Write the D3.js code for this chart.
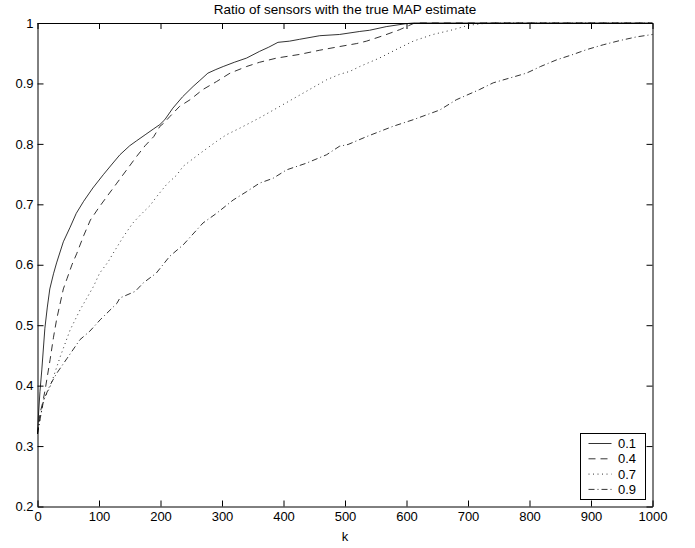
<!DOCTYPE html>
<html>
<head>
<meta charset="utf-8">
<script src="https://cdn.jsdelivr.net/npm/d3@7"></script>
<style>
  body { margin: 0; background: #fff; }
  svg { display: block; }
  text { font-family: "Liberation Sans", Arial, Helvetica, sans-serif; fill: #000; }
</style>
</head>
<body>
<div id="chart"></div>
<script>
// k values and ratios, one pair of arrays per noise level
const k01 = [0, 1.5, 4, 7, 12, 16, 20, 26, 31, 42, 53, 63, 75, 90, 107, 120, 134, 150, 161, 175, 189, 199, 207, 220, 236, 253, 264, 277, 290, 302, 320, 340, 361, 376, 391, 410, 426, 459, 491, 524, 540, 567, 600, 612, 1000];
const v01 = [0.32, 0.35, 0.39, 0.426, 0.495, 0.53, 0.56, 0.585, 0.603, 0.638, 0.662, 0.685, 0.705, 0.727, 0.749, 0.765, 0.782, 0.797, 0.805, 0.815, 0.825, 0.832, 0.84, 0.859, 0.878, 0.895, 0.905, 0.917, 0.923, 0.928, 0.935, 0.942, 0.953, 0.96, 0.968, 0.970, 0.973, 0.979, 0.981, 0.986, 0.988, 0.994, 0.999, 1, 1];

const k04 = [0, 4, 8, 12.4, 20.5, 26, 31, 42, 48, 56, 64, 75, 86, 100, 113, 129, 145, 161, 175, 189, 199, 205, 215, 231, 248, 269, 291, 313, 340, 361, 389, 426, 459, 491, 519, 535, 562, 589, 611, 620, 1000];
const v04 = [0.32, 0.354, 0.37, 0.393, 0.443, 0.48, 0.509, 0.56, 0.577, 0.60, 0.619, 0.648, 0.674, 0.695, 0.713, 0.735, 0.757, 0.779, 0.797, 0.812, 0.829, 0.834, 0.845, 0.862, 0.873, 0.89, 0.903, 0.917, 0.928, 0.935, 0.942, 0.948, 0.955, 0.961, 0.966, 0.970, 0.979, 0.989, 0.999, 1, 1];

const k07 = [0, 5, 10, 20.5, 37, 53, 69, 91, 101, 115, 123, 140, 155, 167, 183, 194, 210, 226, 237, 264, 291, 307, 329, 361, 394, 432, 470, 491, 508, 524, 556, 583, 611, 643, 676, 700, 724, 730, 1000];
const v07 = [0.32, 0.35, 0.376, 0.398, 0.448, 0.492, 0.525, 0.564, 0.586, 0.605, 0.619, 0.647, 0.669, 0.682, 0.698, 0.713, 0.733, 0.748, 0.763, 0.784, 0.804, 0.815, 0.826, 0.843, 0.862, 0.884, 0.906, 0.915, 0.92, 0.928, 0.942, 0.956, 0.97, 0.981, 0.989, 0.996, 0.999, 1, 1];

const k09 = [0, 3, 10, 20.5, 31, 48, 69, 85, 102, 129, 134, 159, 172, 193, 215, 237, 269, 291, 318, 340, 361, 383, 405, 437, 470, 491, 505, 535, 578, 611, 654, 681, 719, 741, 768, 795, 818, 844, 871, 893, 920, 947, 974, 1000];
const v09 = [0.32, 0.338, 0.376, 0.401, 0.42, 0.445, 0.476, 0.49, 0.509, 0.536, 0.545, 0.556, 0.57, 0.586, 0.614, 0.633, 0.669, 0.685, 0.707, 0.721, 0.735, 0.743, 0.757, 0.768, 0.782, 0.796, 0.799, 0.812, 0.829, 0.84, 0.856, 0.873, 0.89, 0.901, 0.909, 0.917, 0.928, 0.939, 0.948, 0.956, 0.964, 0.971, 0.977, 0.981];

const seriesNames = ["0.1", "0.4", "0.7", "0.9"];
const xTicks = [0, 100, 200, 300, 400, 500, 600, 700, 800, 900, 1000];
const yTicks = [0.2, 0.3, 0.4, 0.5, 0.6, 0.7, 0.8, 0.9, 1];

const series = [
  { name: seriesNames[0], k: k01, v: v01, dash: null },
  { name: seriesNames[1], k: k04, v: v04, dash: "7,5" },
  { name: seriesNames[2], k: k07, v: v07, dash: "1,3.5" },
  { name: seriesNames[3], k: k09, v: v09, dash: "6,3,1,3" },
];

const width = 695, height = 548;
const margin = { top: 23, right: 42.5, bottom: 41.5, left: 37.5 };
const innerW = width - margin.left - margin.right;
const innerH = height - margin.top - margin.bottom;
const tickLen = 6;
const fontSize = "13px";

const svg = d3.select("#chart").append("svg")
  .attr("width", width)
  .attr("height", height);

const xScale = d3.scaleLinear().domain([0, 1000]).range([margin.left, margin.left + innerW]);
const yScale = d3.scaleLinear().domain([0.2, 1]).range([margin.top + innerH, margin.top]);

// curves
const line = d3.line()
  .x(d => xScale(d[0]))
  .y(d => yScale(d[1]));

svg.append("g")
  .selectAll("path")
  .data(series)
  .join("path")
  .attr("d", s => line(s.k.map((kk, i) => [kk, s.v[i]])))
  .attr("fill", "none")
  .attr("stroke", "#000")
  .attr("stroke-width", 0.8)
  .attr("stroke-dasharray", s => s.dash);

// axes: MATLAB style box with inward ticks on all sides
const xAxisBottom = d3.axisBottom(xScale).tickValues(xTicks).tickSizeInner(-tickLen).tickSizeOuter(0)
  .tickPadding(5).tickFormat(d3.format("d"));
const xAxisTop = d3.axisTop(xScale).tickValues(xTicks).tickSizeInner(-tickLen).tickSizeOuter(0).tickFormat("");
const yAxisLeft = d3.axisLeft(yScale).tickValues(yTicks).tickSizeInner(-tickLen).tickSizeOuter(0).tickPadding(4)
  .tickFormat(d => d === 1 ? "1" : d3.format(".1f")(d));
const yAxisRight = d3.axisRight(yScale).tickValues(yTicks).tickSizeInner(-tickLen).tickSizeOuter(0).tickFormat("");

svg.append("g").attr("transform", `translate(0,${margin.top + innerH})`).call(xAxisBottom);
svg.append("g").attr("transform", `translate(0,${margin.top})`).call(xAxisTop);
svg.append("g").attr("transform", `translate(${margin.left},0)`).call(yAxisLeft);
svg.append("g").attr("transform", `translate(${margin.left + innerW},0)`).call(yAxisRight);

svg.selectAll(".tick text")
  .style("font-size", fontSize)
  .style("font-family", '"Liberation Sans", Arial, sans-serif');
svg.selectAll(".domain, .tick line").attr("stroke", "#000").attr("stroke-width", 1);

// title and x label
svg.append("text")
  .attr("x", margin.left + innerW / 2)
  .attr("y", 14)
  .attr("text-anchor", "middle")
  .style("font-size", "13.5px")
  .text("Ratio of sensors with the true MAP estimate");

svg.append("text")
  .attr("x", margin.left + innerW / 2)
  .attr("y", 541)
  .attr("text-anchor", "middle")
  .style("font-size", fontSize)
  .text("k");

// legend
const legend = svg.append("g").attr("transform", "translate(580.5,433.5)");
legend.append("rect")
  .attr("width", 65)
  .attr("height", 66)
  .attr("fill", "#fff")
  .attr("stroke", "#000")
  .attr("stroke-width", 1);

const rows = legend.selectAll("g.row")
  .data(series)
  .join("g")
  .attr("class", "row")
  .attr("transform", (d, i) => `translate(0,${10 + i * 15.3})`);

rows.append("line")
  .attr("x1", 8).attr("x2", 31)
  .attr("stroke", "#000")
  .attr("stroke-width", 0.8)
  .attr("stroke-dasharray", d => d.dash);

rows.append("text")
  .attr("x", 37.5)
  .attr("dy", "0.35em")
  .style("font-size", fontSize)
  .text(d => d.name);
</script>
</body>
</html>
